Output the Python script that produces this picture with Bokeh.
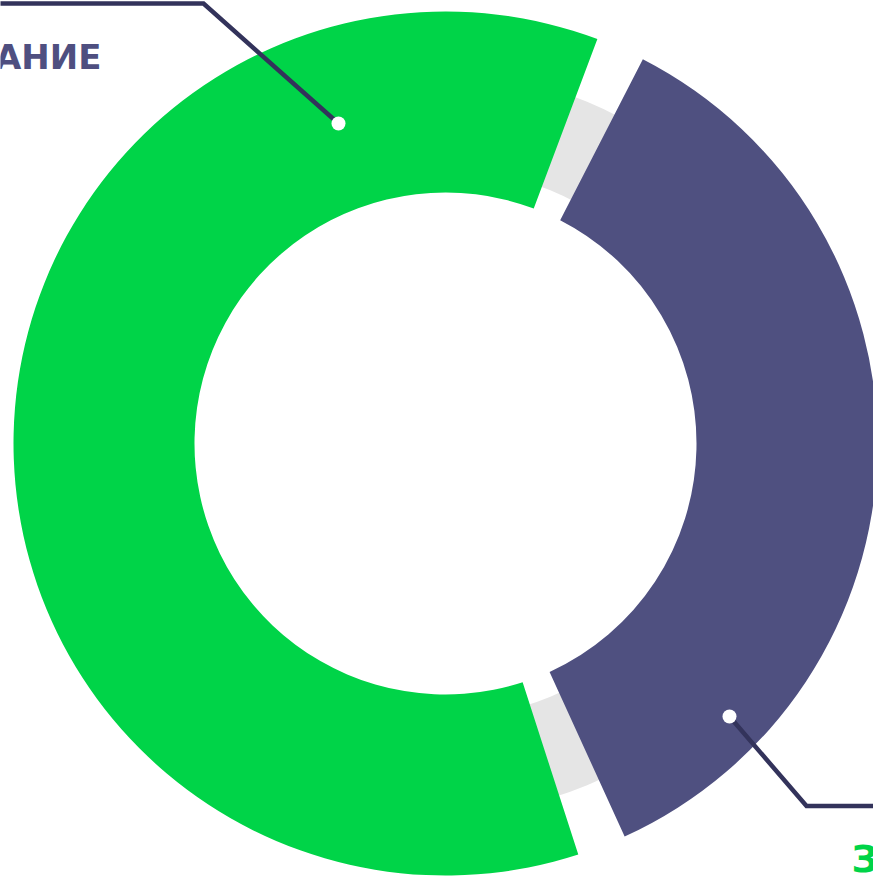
import numpy as np
from bokeh.plotting import figure
from bokeh.models import Range1d
from bokeh.core.properties import value
from bokeh.embed import file_html
from bokeh.resources import INLINE

# ---- data ----
categories = ["АНИЕ", "З"]          # visible label fragments (green slice, purple slice)
values = [63, 37]                    # percent shares: green, purple
colors = ["#00D448", "#4F5080"]
label_colors = ["#4F4F80", "#00D448"]

# ---- layout constants (reference pixel space, y measured from top) ----
W_REF, H_REF = 873, 877
CX, CY_PIX = 445, 443
R_IN, R_OUT = 251, 432
RING_IN, RING_OUT = 274, 370
GAP = 6.6                 # degrees between slices
PURPLE_START = -65.5      # degrees

def fy(pix_y):
    return H_REF - pix_y

cy = fy(CY_PIX)

p = figure(width=W_REF, height=H_REF, output_backend="svg", toolbar_location=None,
           x_range=Range1d(0, W_REF), y_range=Range1d(0, H_REF),
           min_border=0, outline_line_color=None, background_fill_color="white")
p.axis.visible = False
p.grid.visible = False

# background grey ring (visible only in gaps)
p.annulus(x=[CX], y=[cy], inner_radius=RING_IN, outer_radius=RING_OUT,
          fill_color="#E5E5E5", line_color=None)

# slices
total = float(sum(values))
drawn = 360.0 - 2 * GAP
shares = [v / total * drawn for v in values]
p_start = PURPLE_START
p_end = p_start + shares[1]
g_start = p_end + GAP
g_end = g_start + shares[0]

p.annular_wedge(x=[CX, CX], y=[cy, cy], inner_radius=R_IN, outer_radius=R_OUT,
                start_angle=[np.radians(g_start), np.radians(p_start)],
                end_angle=[np.radians(g_end), np.radians(p_end)],
                fill_color=[colors[0], colors[1]], line_color=None)

# leader lines
line_col = "#33335B"
# green slice label (top-left)
gx = [338, 203, -30]
gy = [fy(123), fy(3), fy(3)]
p.line(gx, gy, line_width=4.5, line_color=line_col, line_join="miter")
# purple slice label (bottom-right)
px_ = [729, 806, 900]
py_ = [fy(716), fy(805.5), fy(805.5)]
p.line(px_, py_, line_width=4.5, line_color=line_col, line_join="miter")

p.scatter(x=[gx[0], px_[0]], y=[gy[0], py_[0]], marker="circle", size=14,
          fill_color="white", line_color=None)

# labels
p.text(x=[101], y=[fy(56)], text=[categories[0]], text_font=value("DejaVu Sans"),
       text_font_style="bold", text_font_size="34px", text_align="right",
       text_baseline="alphabetic", text_color=label_colors[0])
p.text(x=[851], y=[fy(858)], text=[categories[1]], text_font=value("DejaVu Sans"),
       text_font_style="bold", text_font_size="38px", text_align="left",
       text_baseline="alphabetic", text_color=label_colors[1])

open("out.html", "w").write(file_html(p, INLINE))
